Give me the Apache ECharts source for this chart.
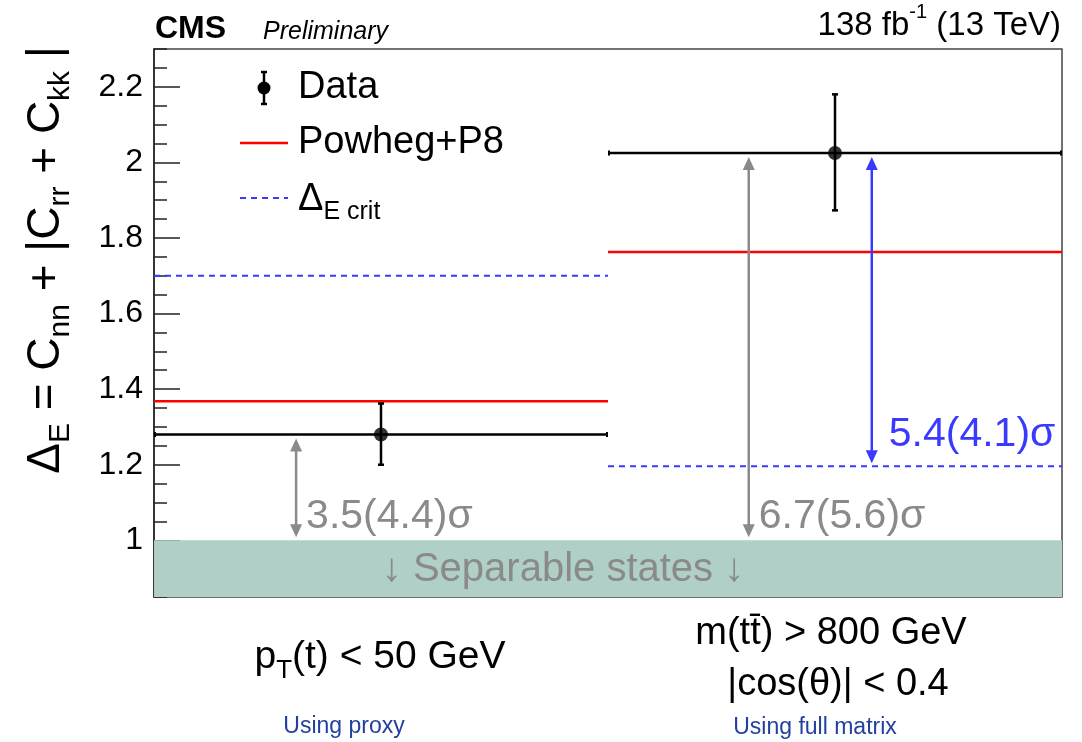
<!DOCTYPE html>
<html><head><meta charset="utf-8">
<script src="https://cdn.jsdelivr.net/npm/echarts@6/dist/echarts.min.js"></script>
<style>html,body{margin:0;padding:0;background:#fff}#c{width:1082px;height:742px}</style>
</head><body><div id="c"></div>
<script>
// ---------- data ----------
const binLabels = ['pT(t) < 50 GeV', 'm(tt̄) > 800 GeV |cos(θ)| < 0.4'];
const binStart = [0, 1];
const binEnd = [1, 2];
const binCenter = [0.5, 1.5];
const dataValues = [1.28, 2.025];
const dataErrLow = [1.20, 1.873];
const dataErrHigh = [1.362, 2.180];
const powhegValues = [1.368, 1.763];
const critValues = [1.70, 1.196];
const separableLimit = 1.0;
const yMin = 0.85, yMax = 2.3;
const yTickValues = [1, 1.2, 1.4, 1.6, 1.8, 2, 2.2];
const yMinorTickValues = [0.85,0.9,0.95,1.05,1.1,1.15,1.25,1.3,1.35,1.45,1.5,1.55,1.65,1.7,1.75,1.85,1.9,1.95,2.05,2.1,2.15,2.25,2.3];
const arrowX = [0.313, 1.31, 1.581];
const arrowFrom = [1.28, 2.025, 2.025];
const arrowTo = [1.0, 1.0, 1.196];
const arrowLabelY = [1.063, 1.063, 1.28];
const arrowLabels = ['3.5(4.4)σ', '6.7(5.6)σ', '5.4(4.1)σ'];
const arrowColors = ['#8a8a8a', '#8a8a8a', '#3a3aff'];

const FONT = "'Liberation Sans', Arial, Helvetica, sans-serif";
const RED = '#ff0000', BLUE = '#3a3aff', GRAY = '#8a8a8a';

const chart = echarts.init(document.getElementById('c'));

function hlineSeries(values, color, width, dash, caps) {
  return {
    type: 'custom', z: 5, silent: true,
    data: values.map((v, i) => [binStart[i], binEnd[i], v]),
    renderItem: (params, api) => {
      const a = api.coord([api.value(0), api.value(2)]);
      const b = api.coord([api.value(1), api.value(2)]);
      const ch = [{ type: 'line', shape: { x1: a[0], y1: a[1], x2: b[0], y2: b[1] },
        style: { stroke: color, lineWidth: width, lineDash: dash || null } }];
      if (caps) {
        ch.push({ type: 'line', shape: { x1: a[0] + 1, y1: a[1] - 2.5, x2: a[0] + 1, y2: a[1] + 2.5 }, style: { stroke: color, lineWidth: 2 } });
        ch.push({ type: 'line', shape: { x1: b[0] - 1, y1: b[1] - 2.5, x2: b[0] - 1, y2: b[1] + 2.5 }, style: { stroke: color, lineWidth: 2 } });
      }
      return { type: 'group', children: ch };
    }
  };
}

function arrowHead(x, y, dir, color) {
  const L = 13, W = 6;
  return { type: 'polygon', shape: { points: [[x, y], [x - W, y - dir * L], [x + W, y - dir * L]] }, style: { fill: color } };
}

const titleRich = {
  a: { fontSize: 46, fontFamily: FONT, lineHeight: 60, verticalAlign: 'middle' },
  s: { fontSize: 30, fontFamily: FONT, lineHeight: 60, verticalAlign: 'bottom' }
};

const option = {
  animation: false,
  backgroundColor: '#fff',
  grid: { left: 154, right: 20, top: 49, bottom: 145, show: true, borderColor: '#444', borderWidth: 1.5, backgroundColor: 'transparent' },
  xAxis: { type: 'value', min: 0, max: 2, show: true,
    axisLine: { show: false }, axisTick: { show: false }, axisLabel: { show: false }, splitLine: { show: false } },
  yAxis: [
    { type: 'value', min: yMin, max: yMax, position: 'left',
      axisLine: { show: true, lineStyle: { color: '#222', width: 1.5 } },
      axisTick: { show: true, inside: true, length: 26, customValues: yTickValues, lineStyle: { color: '#222', width: 1.5 } },
      axisLabel: { show: true, customValues: yTickValues, margin: 11, color: '#000', fontSize: 32, fontFamily: FONT,
        formatter: v => String(Math.round(v * 10) / 10) },
      splitLine: { show: false } },
    { type: 'value', min: yMin, max: yMax, position: 'left', offset: 0,
      axisLine: { show: false },
      axisTick: { show: true, inside: true, length: 13, customValues: yMinorTickValues, lineStyle: { color: '#222', width: 1.5 } },
      axisLabel: { show: false }, splitLine: { show: false } }
  ],
  series: [
    { // separable band
      type: 'custom', z: 1, silent: true,
      data: [[binStart[0], binEnd[1], yMin, separableLimit]],
      renderItem: (params, api) => {
        const a = api.coord([api.value(0), api.value(3)]);
        const b = api.coord([api.value(1), api.value(2)]);
        return { type: 'group', children: [
          { type: 'rect', shape: { x: a[0], y: a[1], width: b[0] - a[0], height: b[1] - a[1] }, style: { fill: '#b0cfc7' } },
          { type: 'text', style: { text: '↓ Separable states ↓', x: 563, y: (a[1] + b[1]) / 2 + 1, font: '40px ' + FONT, fill: GRAY, align: 'center', verticalAlign: 'middle' } }
        ] };
      }
    },
    hlineSeries(critValues, BLUE, 2, [6, 5], false),
    hlineSeries(powhegValues, RED, 2.5, null, false),
    hlineSeries(dataValues, '#000', 2.5, null, true),
    { // arrows + significance labels
      type: 'custom', z: 6, silent: true,
      data: arrowX.map((x, i) => [x, arrowFrom[i], arrowTo[i], arrowLabelY[i], i]),
      renderItem: (params, api) => {
        const i = api.value(4);
        const col = arrowColors[i];
        const top = api.coord([api.value(0), api.value(1)]);
        const bot = api.coord([api.value(0), api.value(2)]);
        const lab = api.coord([api.value(0), api.value(3)]);
        const yt = top[1] + 4, yb = bot[1] - 3;
        return { type: 'group', children: [
          { type: 'line', shape: { x1: top[0], y1: yt + 8, x2: bot[0], y2: yb - 8 }, style: { stroke: col, lineWidth: 2.5 } },
          arrowHead(top[0], yt, -1, col),
          arrowHead(bot[0], yb, 1, col),
          { type: 'text', style: { text: arrowLabels[i], x: lab[0] + (i === 2 ? 17 : 10), y: lab[1], fill: col,
            font: '41px ' + FONT, verticalAlign: 'middle', align: 'left' } }
        ] };
      }
    },
    { // data error bars
      type: 'custom', z: 7, silent: true,
      data: binCenter.map((x, i) => [x, dataErrLow[i], dataErrHigh[i]]),
      renderItem: (params, api) => {
        const lo = api.coord([api.value(0), api.value(1)]);
        const hi = api.coord([api.value(0), api.value(2)]);
        return { type: 'group', children: [
          { type: 'line', shape: { x1: lo[0], y1: lo[1], x2: hi[0], y2: hi[1] }, style: { stroke: '#000', lineWidth: 2.5 } },
          { type: 'line', shape: { x1: lo[0] - 3, y1: lo[1], x2: lo[0] + 3, y2: lo[1] }, style: { stroke: '#000', lineWidth: 2.5 } },
          { type: 'line', shape: { x1: hi[0] - 3, y1: hi[1], x2: hi[0] + 3, y2: hi[1] }, style: { stroke: '#000', lineWidth: 2.5 } }
        ] };
      }
    },
    { type: 'scatter', z: 8, silent: true, symbol: 'circle', symbolSize: 14,
      itemStyle: { color: '#000' },
      data: binCenter.map((x, i) => [x, dataValues[i]]) }
  ],
  graphic: [
    // header
    { type: 'text', z: 100, left: 155, top: 13, style: { text: 'CMS', font: 'bold 32px ' + FONT, fill: '#000' } },
    { type: 'text', z: 100, left: 263, top: 20, style: { text: 'Preliminary', font: 'italic 25px ' + FONT, fill: '#000' } },
    { type: 'text', z: 100, right: 21, top: 2, style: {
      text: '{a|138 fb}{s|-1}{a| (13 TeV)}', fill: '#000',
      rich: { a: { fontSize: 33, fontFamily: FONT, lineHeight: 40, verticalAlign: 'bottom' },
              s: { fontSize: 20, fontFamily: FONT, lineHeight: 40, verticalAlign: 'top' } } } },
    // y axis title
    { type: 'text', z: 100, x: 46, y: 260, rotation: Math.PI / 2, style: {
      text: '{a|Δ}{s|E}{a| = C}{s|nn}{a| + |C}{s|rr}{a| + C}{s|kk}{a| |}', align: 'center', verticalAlign: 'middle', fill: '#000',
      rich: titleRich } },
    // legend
    { type: 'line', z: 100, shape: { x1: 264, y1: 72, x2: 264, y2: 104 }, style: { stroke: '#000', lineWidth: 2.5 } },
    { type: 'line', z: 100, shape: { x1: 261, y1: 72, x2: 267, y2: 72 }, style: { stroke: '#000', lineWidth: 2.5 } },
    { type: 'line', z: 100, shape: { x1: 261, y1: 104, x2: 267, y2: 104 }, style: { stroke: '#000', lineWidth: 2.5 } },
    { type: 'circle', z: 100, shape: { cx: 264, cy: 88, r: 6.5 }, style: { fill: '#000' } },
    { type: 'text', z: 100, x: 298, y: 88, style: { text: 'Data', font: '38px ' + FONT, fill: '#000', verticalAlign: 'middle' } },
    { type: 'line', z: 100, shape: { x1: 240, y1: 143, x2: 288, y2: 143 }, style: { stroke: RED, lineWidth: 2.5 } },
    { type: 'text', z: 100, x: 298, y: 143, style: { text: 'Powheg+P8', font: '38px ' + FONT, fill: '#000', verticalAlign: 'middle' } },
    { type: 'line', z: 100, shape: { x1: 240, y1: 198, x2: 288, y2: 198 }, style: { stroke: BLUE, lineWidth: 2, lineDash: [6, 5] } },
    { type: 'text', z: 100, x: 298, y: 200, style: { text: '{a|Δ}{s|E crit}', fill: '#000', verticalAlign: 'middle',
      rich: { a: { fontSize: 38, fontFamily: FONT, lineHeight: 50, verticalAlign: 'middle' },
              s: { fontSize: 25, fontFamily: FONT, lineHeight: 50, verticalAlign: 'bottom' } } } },
    // bin labels
    { type: 'text', z: 100, x: 380, y: 657, style: { text: '{a|p}{s|T}{a|(t) < 50 GeV}', fill: '#000', align: 'center', verticalAlign: 'middle',
      rich: { a: { fontSize: 39, fontFamily: FONT, lineHeight: 54, verticalAlign: 'middle' },
              s: { fontSize: 26, fontFamily: FONT, lineHeight: 54, verticalAlign: 'bottom' } } } },
    { type: 'text', z: 100, x: 831, y: 634, style: { text: 'm(tt\u0304) > 800 GeV', font: '38px ' + FONT, fill: '#000', align: 'center', verticalAlign: 'middle' } },
    { type: 'text', z: 100, x: 838, y: 685, style: { text: '|cos(θ)| < 0.4', font: '38px ' + FONT, fill: '#000', align: 'center', verticalAlign: 'middle' } },
    { type: 'text', z: 100, x: 344, y: 727, style: { text: 'Using proxy', font: '23px ' + FONT, fill: '#2340a0', align: 'center', verticalAlign: 'middle' } },
    { type: 'text', z: 100, x: 815, y: 728, style: { text: 'Using full matrix', font: '23px ' + FONT, fill: '#2340a0', align: 'center', verticalAlign: 'middle' } }
  ]
};
chart.setOption(option);
</script>
</body></html>
